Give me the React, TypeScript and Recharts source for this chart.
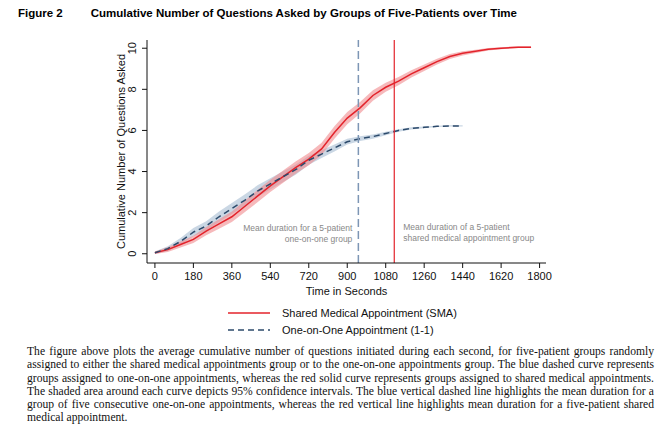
import React from 'react';
import { ComposedChart, Area, Line, XAxis, YAxis, ReferenceLine } from 'recharts';

const times = [0,60,120,180,240,300,360,420,480,540,600,660,720,780,840,900,960,1020,1080,1140,1200,1260,1320,1380,1440,1500,1560,1620,1700,1760];
const smaValues = [0.05,0.2,0.45,0.7,1.1,1.45,1.8,2.3,2.8,3.3,3.75,4.2,4.6,5.1,5.9,6.6,7.1,7.7,8.1,8.4,8.75,9.05,9.35,9.6,9.75,9.85,9.95,10.0,10.05,10.05];
const smaBand = [0.06,0.12,0.15,0.18,0.2,0.23,0.26,0.28,0.3,0.3,0.3,0.3,0.3,0.3,0.3,0.3,0.28,0.25,0.22,0.2,0.18,0.16,0.14,0.12,0.1,0.08,0.06,0.05,0.04,0.04];
const oneValues = [0.05,0.25,0.6,1.05,1.35,1.8,2.2,2.6,3.05,3.4,3.75,4.1,4.55,4.85,5.15,5.45,5.6,5.7,5.85,6.0,6.1,6.15,6.2,6.22,6.22];
const oneBand = [0.06,0.12,0.17,0.2,0.23,0.25,0.27,0.28,0.28,0.27,0.26,0.24,0.22,0.19,0.17,0.14,0.12,0.1,0.08,0.06,0.05,0.04,0.03,0.03,0.03];
const xTicks = [0,180,360,540,720,900,1080,1260,1440,1620,1800];
const yTicks = [0,2,4,6,8,10];
const oneMean = 952;
const smaMean = 1120;

const data = times.map((t, i) => ({
  t,
  sma: smaValues[i],
  smaR: [smaValues[i] - smaBand[i], smaValues[i] + smaBand[i]],
  one: i < oneValues.length ? oneValues[i] : null,
  oneR: i < oneValues.length ? [oneValues[i] - oneBand[i], oneValues[i] + oneBand[i]] : null,
}));

const RED = '#e3232b';
const BLUE = '#2c4a6b';
const sans = '"Liberation Sans", Arial, sans-serif';
const serif = '"Liberation Serif", "DejaVu Serif", serif';

const YTick = (p: any) => (
  <text x={p.x - 4} y={p.y} transform={`rotate(-90 ${p.x - 4} ${p.y})`} textAnchor="middle" fontSize={11} fill="#111" fontFamily={sans}>{p.payload.value}</text>
);
const XTick = (p: any) => (
  <text x={p.x} y={p.y + 10} textAnchor="middle" fontSize={11} fill="#111" fontFamily={sans}>{p.payload.value}</text>
);

const leftLabel = (p: any) => {
  const x = p.viewBox.x - 6;
  return (
    <g fontSize={8.5} fill="#888" fontFamily={sans} textAnchor="end">
      <text x={x} y={231}>Mean duration for a 5-patient</text>
      <text x={x} y={242}>one-on-one group</text>
    </g>
  );
};
const rightLabel = (p: any) => {
  const x = p.viewBox.x + 9;
  return (
    <g fontSize={8.5} fill="#888" fontFamily={sans} textAnchor="start">
      <text x={x} y={230}>Mean duration of a 5-patient</text>
      <text x={x} y={241}>shared medical appointment group</text>
    </g>
  );
};

export default function App() {
  return (
    <div style={{ position: 'absolute', left: 0, top: 0, width: 657, height: 424, background: '#fff', fontFamily: sans }}>
      <div style={{ position: 'absolute', left: 18, top: 7, fontFamily: sans, fontWeight: 'bold', fontSize: 11.5, whiteSpace: 'nowrap' }}>
        Figure 2<span style={{ marginLeft: 28 }}>Cumulative Number of Questions Asked by Groups of Five-Patients over Time</span>
      </div>
      <div style={{ position: 'absolute', left: 0, top: 0 }}>
        <ComposedChart width={560} height={300} data={data} margin={{ top: 40, right: 14, bottom: 7, left: 107 }}>
          <XAxis dataKey="t" type="number" domain={[-37, 1830]} ticks={xTicks} height={30} stroke="#111" tick={<XTick />} tickSize={5}
            label={{ value: 'Time in Seconds', position: 'insideBottom', offset: -2, fontSize: 11, fill: '#111', fontFamily: sans }} />
          <YAxis type="number" domain={[-0.45, 10.4]} ticks={yTicks} width={40} stroke="#111" tick={<YTick />} tickSize={5}
            label={{ value: 'Cumulative Number of Questions Asked', angle: -90, position: 'insideLeft', offset: 14, fontSize: 11, fill: '#111', fontFamily: sans, style: { textAnchor: 'middle' } }} />
          <Area dataKey="oneR" stroke="none" fill="#8aa6c4" fillOpacity={0.45} isAnimationActive={false} />
          <Area dataKey="smaR" stroke="none" fill="#f08a8e" fillOpacity={0.6} isAnimationActive={false} />
          <Line dataKey="sma" stroke={RED} strokeWidth={1.5} dot={false} isAnimationActive={false} />
          <Line dataKey="one" stroke={BLUE} strokeWidth={1.5} strokeDasharray="6 4" dot={false} isAnimationActive={false} />
          <ReferenceLine x={oneMean} stroke="#7d96b5" strokeWidth={1.5} strokeDasharray="8 4" label={leftLabel} />
          <ReferenceLine x={smaMean} stroke={RED} strokeWidth={1.2} label={rightLabel} />
        </ComposedChart>
      </div>
      <div style={{ position: 'absolute', left: 228, top: 304, fontFamily: sans, fontSize: 11, color: '#111' }}>
        <div style={{ display: 'flex', alignItems: 'center', height: 17 }}>
          <svg width={42} height={4}><line x1={0} y1={2} x2={42} y2={2} stroke={RED} strokeWidth={1.5} /></svg>
          <span style={{ marginLeft: 12 }}>Shared Medical Appointment (SMA)</span>
        </div>
        <div style={{ display: 'flex', alignItems: 'center', height: 17 }}>
          <svg width={42} height={4}><line x1={0} y1={2} x2={42} y2={2} stroke={BLUE} strokeWidth={1.5} strokeDasharray="6 4" /></svg>
          <span style={{ marginLeft: 12 }}>One-on-One Appointment (1-1)</span>
        </div>
      </div>
      <div style={{ position: 'absolute', left: 27, top: 345, width: 627, fontFamily: serif, fontSize: 11.6, lineHeight: '13.3px', textAlign: 'justify', color: '#111' }}>
        The figure above plots the average cumulative number of questions initiated during each second, for five-patient groups randomly assigned to either the shared medical appointments group or to the one-on-one appointments group. The blue dashed curve represents groups assigned to one-on-one appointments, whereas the red solid curve represents groups assigned to shared medical appointments. The shaded area around each curve depicts 95% confidence intervals. The blue vertical dashed line highlights the mean duration for a group of five consecutive one-on-one appointments, whereas the red vertical line highlights mean duration for a five-patient shared medical appointment.
      </div>
    </div>
  );
}
